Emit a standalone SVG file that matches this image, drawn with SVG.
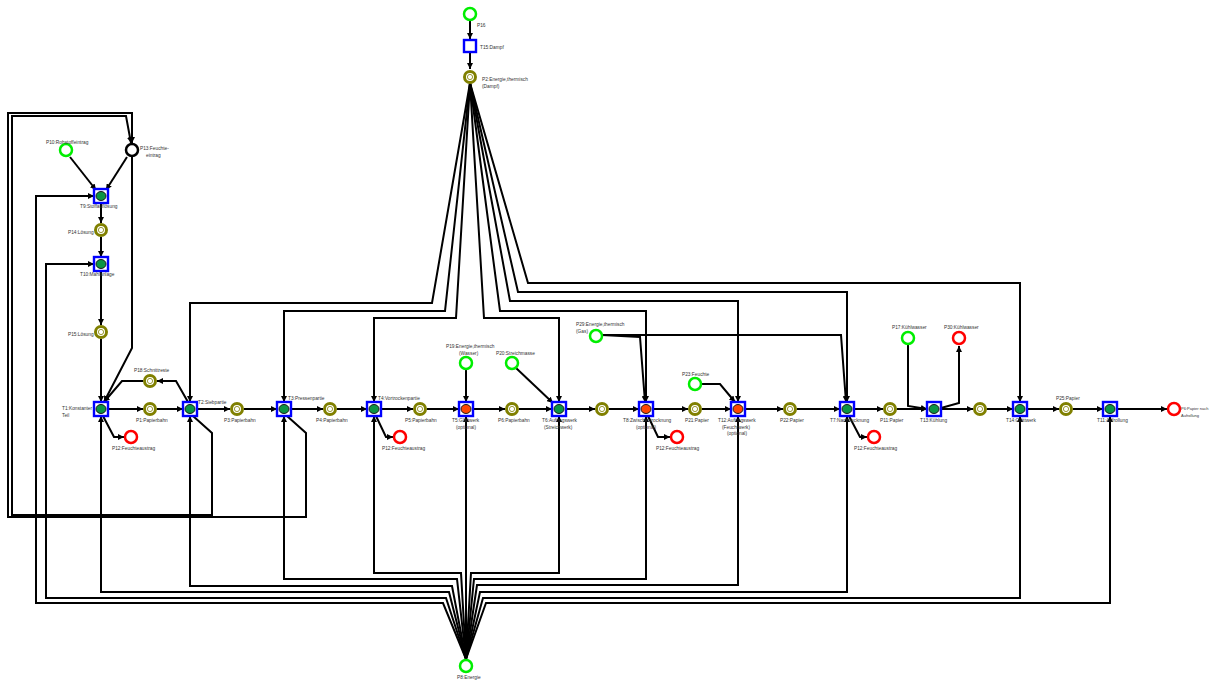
<svg xmlns="http://www.w3.org/2000/svg" width="1209" height="680" viewBox="0 0 1209 680">
<style>
.c{fill:none;stroke:#000;stroke-width:2;stroke-linejoin:miter}
.a{marker-end:url(#ah)}
.t rect{fill:#fff;stroke:#0000ff;stroke-width:2.4}
.t ellipse{stroke:#1a1a1a;stroke-width:1}
.g{fill:#0b9444}
.o{fill:#ff4500}
.pl{fill:#fff;stroke-width:2.5}
.pg{stroke:#00ee00}
.pr{stroke:#ff0000}
.po{stroke:#808000;stroke-width:3}
.pk{stroke:#000}
.in{fill:#fff;stroke:#808000;stroke-width:0.8}
text{font-family:"Liberation Sans",Arial,sans-serif;font-size:4.8px;fill:#333}
</style>
<defs>
<marker id="ah" viewBox="0 0 10 10" refX="10" refY="5" markerWidth="6" markerHeight="6" orient="auto" markerUnits="userSpaceOnUse"><path d="M0,0 L10,5 L0,10 z" fill="#000"/></marker>
</defs>
<rect width="1209" height="680" fill="#fff"/>
<g id="connectors">
<path class="c a" d="M108,409 H143"/><path class="c a" d="M157,409 H183"/><path class="c a" d="M197,409 H230"/>
<path class="c a" d="M244,409 H277"/><path class="c a" d="M291,409 H323"/><path class="c a" d="M337,409 H367"/>
<path class="c a" d="M381,409 H413"/><path class="c a" d="M427,409 H459"/><path class="c a" d="M473,409 H505"/>
<path class="c a" d="M519,409 H552"/><path class="c a" d="M566,409 H595"/><path class="c a" d="M609,409 H639"/>
<path class="c a" d="M653,409 H688"/><path class="c a" d="M702,409 H731"/><path class="c a" d="M745,409 H783"/>
<path class="c a" d="M797,409 H840"/><path class="c a" d="M854,409 H883"/><path class="c a" d="M897,409 H927"/>
<path class="c a" d="M941,409 H973"/><path class="c a" d="M987,409 H1013"/><path class="c a" d="M1027,409 H1059"/>
<path class="c a" d="M1073,409 H1103"/><path class="c a" d="M1117,409 H1167"/>
<path class="c a" d="M470,21 V39"/><path class="c a" d="M470,53 V69"/>
<path class="c a" d="M470,83 L432,303 H190 V402"/>
<path class="c a" d="M470,83 L445,311 H284 V402"/>
<path class="c a" d="M470,83 L456,318 H374 V402"/>
<path class="c a" d="M470,83 L484,318 H559 V402"/>
<path class="c a" d="M470,83 L500,311 H646 V402"/>
<path class="c a" d="M470,83 L510,301 H738 V402"/>
<path class="c a" d="M470,83 L518,292 H847 V402"/>
<path class="c a" d="M470,83 L528,283 H1020 V402"/>
<path class="c a" d="M466,659 L461,573 H374 V416"/>
<path class="c a" d="M466,659 L457,579 H284 V416"/>
<path class="c a" d="M466,659 L452,586 H190 V416"/>
<path class="c a" d="M466,659 L449,592 H101 V416"/>
<path class="c a" d="M466,659 L446,598 H46 V264 H94"/>
<path class="c a" d="M466,659 L443,603 H36 V196 H94"/>
<path class="c a" d="M466,659 V416"/>
<path class="c a" d="M466,659 L471,573 H559 V416"/>
<path class="c a" d="M466,659 L474,579 H646 V416"/>
<path class="c a" d="M466,659 L477,585 H738 V416"/>
<path class="c a" d="M466,659 L480,592 H847 V416"/>
<path class="c a" d="M466,659 L483,598 H1020 V416"/>
<path class="c a" d="M466,659 L486,603 H1110 V416"/>
<path class="c a" d="M70,157 L96,190"/>
<path class="c a" d="M127,157 L106,190"/>
<path class="c a" d="M101,203 V223"/><path class="c a" d="M101,237 V257"/>
<path class="c a" d="M101,271 V325"/><path class="c a" d="M101,339 V402"/>
<path class="c a" d="M132,157 V348 L104,402"/>
<path class="c a" d="M143,381 H122 L104,402"/>
<path class="c a" d="M188,402 L176,381 H157"/>
<path class="c a" d="M103,416 L114,437 H124"/>
<path class="c a" d="M193,416 L212,433 V515 H12 V116 H126 L131,143"/>
<path class="c a" d="M287,416 L306,433 V517 H8 V113 H132 V143"/>
<path class="c a" d="M466,370 V402"/>
<path class="c a" d="M516,368 L553,403"/>
<path class="c a" d="M376,416 L386,437 H393"/>
<path class="c a" d="M602,335 L640,337 L645,402"/>
<path class="c a" d="M602,335 H841 L846,402"/>
<path class="c a" d="M648,416 L658,437 H670"/>
<path class="c a" d="M702,384 H720 L735,402"/>
<path class="c a" d="M849,416 L860,437 H867"/>
<path class="c a" d="M908,345 V406 L927,409"/>
<path class="c a" d="M941,408 L959,403 V346"/>
</g>
<g id="P16"><circle class="pl pg" cx="470" cy="14" r="6"/><text x="477" y="27">P16</text></g>
<g id="T15"><g class="t"><rect x="464" y="40" width="12" height="12"/></g><text x="480" y="49">T15:Dampf</text></g>
<g id="P2"><circle class="pl po" cx="470" cy="77" r="5.5"/><circle class="in" cx="470" cy="77" r="2.6"/><text x="482" y="81">P2:Energie,thermisch</text><text x="482" y="88">(Dampf)</text></g>
<g id="P10"><circle class="pl pg" cx="66" cy="150" r="6"/><text x="46" y="144">P10:Rohstoffeintrag</text></g>
<g id="P13"><circle class="pl pk" cx="132" cy="150" r="6"/><text x="140" y="150">P13:Feuchte-</text><text x="146" y="157">eintrag</text></g>
<g id="T9"><g class="t"><rect x="94" y="189" width="14" height="14"/><ellipse class="g" cx="101" cy="196" rx="5" ry="4.5"/></g><text x="80" y="208">T9:Stoffauflösung</text></g>
<g id="P14"><circle class="pl po" cx="101" cy="230" r="5.5"/><circle class="in" cx="101" cy="230" r="2.6"/><text x="68" y="234">P14:Lösung</text></g>
<g id="T10"><g class="t"><rect x="94" y="257" width="14" height="14"/><ellipse class="g" cx="101" cy="264" rx="5" ry="4.5"/></g><text x="80" y="276">T10:Mahlanlage</text></g>
<g id="P15"><circle class="pl po" cx="101" cy="332" r="5.5"/><circle class="in" cx="101" cy="332" r="2.6"/><text x="68" y="336">P15:Lösung</text></g>
<g id="P18"><circle class="pl po" cx="150" cy="381" r="5.5"/><circle class="in" cx="150" cy="381" r="2.6"/><text x="134" y="372">P18:Schnittreste</text></g>
<g id="T1"><g class="t"><rect x="94" y="402" width="14" height="14"/><ellipse class="g" cx="101" cy="409" rx="5" ry="4.5"/></g><text x="62" y="410">T1:Konstanter</text><text x="62" y="417">Teil</text></g>
<g id="P1"><circle class="pl po" cx="150" cy="409" r="5.5"/><circle class="in" cx="150" cy="409" r="2.6"/><text x="136" y="422">P1:Papierbahn</text></g>
<g id="P12a"><circle class="pl pr" cx="131" cy="437" r="6"/><text x="112" y="450">P12:Feuchteaustrag</text></g>
<g id="T2"><g class="t"><rect x="183" y="402" width="14" height="14"/><ellipse class="g" cx="190" cy="409" rx="5" ry="4.5"/></g><text x="198" y="404">T2:Siebpartie</text></g>
<g id="P3"><circle class="pl po" cx="237" cy="409" r="5.5"/><circle class="in" cx="237" cy="409" r="2.6"/><text x="224" y="422">P3:Papierbahn</text></g>
<g id="T3"><g class="t"><rect x="277" y="402" width="14" height="14"/><ellipse class="g" cx="284" cy="409" rx="5" ry="4.5"/></g><text x="288" y="400">T3:Pressenpartie</text></g>
<g id="P4"><circle class="pl po" cx="330" cy="409" r="5.5"/><circle class="in" cx="330" cy="409" r="2.6"/><text x="316" y="422">P4:Papierbahn</text></g>
<g id="T4"><g class="t"><rect x="367" y="402" width="14" height="14"/><ellipse class="g" cx="374" cy="409" rx="5" ry="4.5"/></g><text x="378" y="400">T4:Vortrockenpartie</text></g>
<g id="P5"><circle class="pl po" cx="420" cy="409" r="5.5"/><circle class="in" cx="420" cy="409" r="2.6"/><text x="405" y="422">P5:Papierbahn</text></g>
<g id="P12b"><circle class="pl pr" cx="400" cy="437" r="6"/><text x="382" y="450">P12:Feuchteaustrag</text></g>
<g id="P19"><circle class="pl pg" cx="466" cy="363" r="6"/><text x="446" y="348">P19:Energie,thermisch</text><text x="459" y="355">(Wasser)</text></g>
<g id="P20"><circle class="pl pg" cx="512" cy="363" r="6"/><text x="496" y="355">P20:Streichmasse</text></g>
<g id="T5"><g class="t"><rect x="459" y="402" width="14" height="14"/><ellipse class="o" cx="466" cy="409" rx="5" ry="4.5"/></g><text x="452" y="422">T5:Glättwerk</text><text x="456" y="429">(optional)</text></g>
<g id="P6"><circle class="pl po" cx="512" cy="409" r="5.5"/><circle class="in" cx="512" cy="409" r="2.6"/><text x="498" y="422">P6:Papierbahn</text></g>
<g id="T6"><g class="t"><rect x="552" y="402" width="14" height="14"/><ellipse class="g" cx="559" cy="409" rx="5" ry="4.5"/></g><text x="542" y="422">T6:Auftragswerk</text><text x="544" y="429">(Streichwerk)</text></g>
<g id="P7"><circle class="pl po" cx="602" cy="409" r="5.5"/><circle class="in" cx="602" cy="409" r="2.6"/></g>
<g id="P29"><circle class="pl pg" cx="596" cy="336" r="6"/><text x="576" y="326">P29:Energie,thermisch</text><text x="576" y="333">(Gas)</text></g>
<g id="T8"><g class="t"><rect x="639" y="402" width="14" height="14"/><ellipse class="o" cx="646" cy="409" rx="5" ry="4.5"/></g><text x="623" y="422">T8:Zwischentrocknung</text><text x="636" y="429">(optional)</text></g>
<g id="P12c"><circle class="pl pr" cx="677" cy="437" r="6"/><text x="656" y="450">P12:Feuchteaustrag</text></g>
<g id="P23"><circle class="pl pg" cx="695" cy="384" r="6"/><text x="682" y="376">P23:Feuchte</text></g>
<g id="P21"><circle class="pl po" cx="695" cy="409" r="5.5"/><circle class="in" cx="695" cy="409" r="2.6"/><text x="685" y="422">P21:Papier</text></g>
<g id="T12"><g class="t"><rect x="731" y="402" width="14" height="14"/><ellipse class="o" cx="738" cy="409" rx="5" ry="4.5"/></g><text x="718" y="422">T12:Auftragswerk</text><text x="722" y="429">(Feuchtwerk)</text><text x="727" y="435">(optional)</text></g>
<g id="P22"><circle class="pl po" cx="790" cy="409" r="5.5"/><circle class="in" cx="790" cy="409" r="2.6"/><text x="780" y="422">P22:Papier</text></g>
<g id="T7"><g class="t"><rect x="840" y="402" width="14" height="14"/><ellipse class="g" cx="847" cy="409" rx="5" ry="4.5"/></g><text x="830" y="422">T7:Nachtrocknung</text></g>
<g id="P12d"><circle class="pl pr" cx="874" cy="437" r="6"/><text x="854" y="450">P12:Feuchteaustrag</text></g>
<g id="P11"><circle class="pl po" cx="890" cy="409" r="5.5"/><circle class="in" cx="890" cy="409" r="2.6"/><text x="880" y="422">P11:Papier</text></g>
<g id="P17"><circle class="pl pg" cx="908" cy="338" r="6"/><text x="892" y="329">P17:Kühlwasser</text></g>
<g id="P30"><circle class="pl pr" cx="959" cy="338" r="6"/><text x="944" y="329">P30:Kühlwasser</text></g>
<g id="T13"><g class="t"><rect x="927" y="402" width="14" height="14"/><ellipse class="g" cx="934" cy="409" rx="5" ry="4.5"/></g><text x="920" y="422">T13:Kühlung</text></g>
<g id="P24"><circle class="pl po" cx="980" cy="409" r="5.5"/><circle class="in" cx="980" cy="409" r="2.6"/></g>
<g id="T14"><g class="t"><rect x="1013" y="402" width="14" height="14"/><ellipse class="g" cx="1020" cy="409" rx="5" ry="4.5"/></g><text x="1006" y="422">T14:Glättwerk</text></g>
<g id="P25"><circle class="pl po" cx="1066" cy="409" r="5.5"/><circle class="in" cx="1066" cy="409" r="2.6"/><text x="1056" y="400">P25:Papier</text></g>
<g id="T11"><g class="t"><rect x="1103" y="402" width="14" height="14"/><ellipse class="g" cx="1110" cy="409" rx="5" ry="4.5"/></g><text x="1097" y="422">T11:Aufrollung</text></g>
<g id="P9"><circle class="pl pr" cx="1174" cy="409" r="6"/><text x="1181" y="410" style="font-size:4px">P6:Papier nach</text><text x="1181" y="417" style="font-size:4px">Aufrollung</text></g>
<g id="P8"><circle class="pl pg" cx="466" cy="666" r="6"/><text x="457" y="679">P8:Energie</text></g>
</svg>
